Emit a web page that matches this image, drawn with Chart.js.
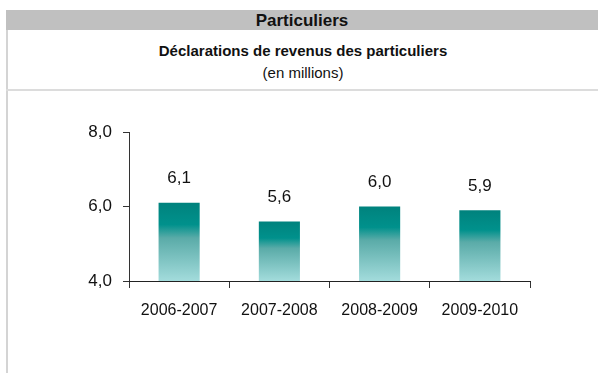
<!DOCTYPE html>
<html>
<head>
<meta charset="utf-8">
<script src="https://cdn.jsdelivr.net/npm/chart.js@4.4.1/dist/chart.umd.min.js"></script>
<style>
body{margin:0;background:#fff;width:598px;height:373px;overflow:hidden;position:relative;font-family:"Liberation Sans",Arial,sans-serif;color:#111;}
#bande{position:absolute;left:6px;top:10px;width:592px;height:20px;background:#c0c0c0;text-align:center;font-weight:bold;font-size:17px;line-height:21px;}
#cadre{position:absolute;left:6px;top:30px;width:2px;height:343px;background:#d4d4d4;}
#sep{position:absolute;left:6px;top:89px;width:592px;height:2px;background:#dcdcdc;}
#titre{position:absolute;left:8px;top:42px;width:590px;text-align:center;font-weight:bold;font-size:15px;}
#sous{position:absolute;left:8px;top:64px;width:590px;text-align:center;font-size:15px;}
#zone{position:absolute;left:0;top:100px;width:598px;height:273px;}
</style>
</head>
<body>
<div id="bande">Particuliers</div>
<div id="cadre"></div>
<div id="sep"></div>
<div id="titre">Déclarations de revenus des particuliers</div>
<div id="sous">(en millions)</div>
<div id="zone"><canvas id="graf"></canvas></div>
<script>
const annees = ["2006-2007","2007-2008","2008-2009","2009-2010"];
const declarations = [6.1, 5.6, 6.0, 5.9];
const yMin = 4, yMax = 8, yPas = 2;

const police = '"Liberation Sans",Arial,sans-serif';
const virgule = v => v.toFixed(1).replace(".", ",");

function degrade(ctx){
  const chart = ctx.chart;
  const y = chart.scales.y;
  if(!y || ctx.dataIndex === undefined) return "#00857f";
  const haut = y.getPixelForValue(ctx.raw);
  const bas = y.getPixelForValue(yMin);
  if(!isFinite(haut) || !isFinite(bas) || haut === bas) return "#00857f";
  const g = chart.ctx.createLinearGradient(0, haut, 0, bas);
  g.addColorStop(0, "#00827d");
  g.addColorStop(0.28, "#00918c");
  g.addColorStop(0.45, "#5aaba8");
  g.addColorStop(1, "#a3dcdc");
  return g;
}

const etiquettes = {
  id: "etiquettes",
  afterDatasetsDraw(chart){
    const c = chart.ctx;
    c.save();
    c.font = "17px " + police;
    c.fillStyle = "#111";
    c.textAlign = "center";
    c.textBaseline = "middle";
    chart.getDatasetMeta(0).data.forEach((b, i) => {
      c.fillText(virgule(declarations[i]), b.x, b.y - 24);
    });
    c.restore();
  }
};

new Chart(document.getElementById("graf"), {
  type: "bar",
  data: {
    labels: annees,
    datasets: [{
      data: declarations,
      backgroundColor: degrade,
      categoryPercentage: 1,
      barPercentage: 0.41,
      borderWidth: 0
    }]
  },
  options: {
    responsive: true,
    maintainAspectRatio: false,
    animation: false,
    layout: { padding: { top: 32, right: 68, left: 0, bottom: 0 } },
    plugins: { legend: { display: false }, tooltip: { enabled: false } },
    scales: {
      y: {
        min: yMin, max: yMax,
        ticks: { stepSize: yPas, callback: v => virgule(v), color: "#111", font: { size: 17, family: police }, padding: 11 },
        grid: { drawOnChartArea: false, drawTicks: true, tickLength: 6, tickColor: "#333" },
        border: { display: true, color: "#333", width: 1 },
        afterFit: s => { s.width = 129; }
      },
      x: {
        offset: true,
        ticks: { color: "#111", font: { size: 16, family: police }, padding: 13, maxRotation: 0 },
        grid: { offset: true, drawOnChartArea: false, drawTicks: true, tickLength: 7, tickColor: "#333" },
        border: { display: true, color: "#222", width: 1 },
        afterFit: s => { s.height = 92; }
      }
    }
  },
  plugins: [etiquettes]
});
</script>
</body>
</html>
